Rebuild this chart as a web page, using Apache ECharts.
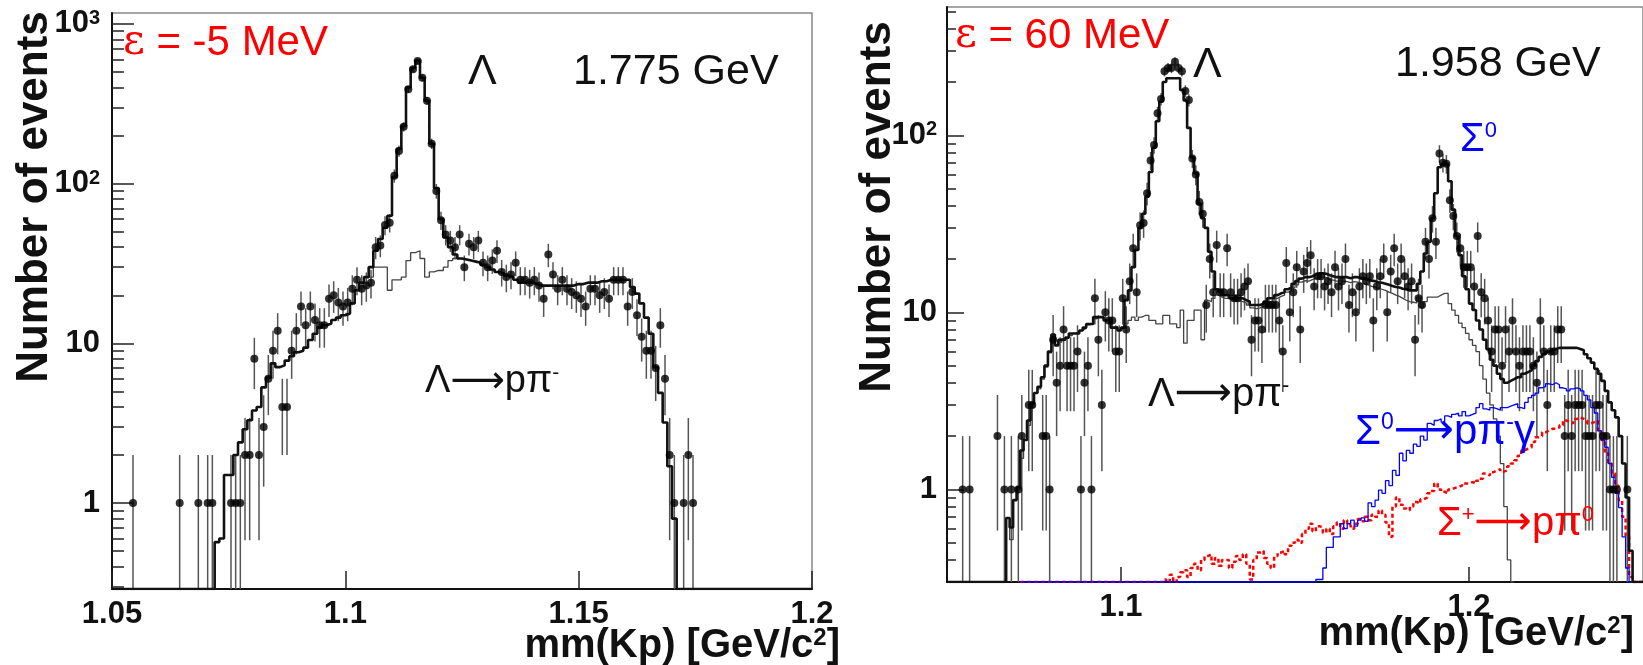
<!DOCTYPE html>
<html><head><meta charset="utf-8">
<script src="https://cdn.jsdelivr.net/npm/echarts@6/dist/echarts.min.js"></script>
<style>html,body{margin:0;padding:0;background:#fff}#c{width:1643px;height:665px}</style>
</head><body><div id="c"></div>
<script>
// ---------- DATA ----------
// Left panel: 1 MeV bins from 1.050 to 1.200 GeV (150 bins)
const L_X0 = 1.05, L_BIN = 0.001;
const L_DATA = [
 0,0,0,0,1,0,0,0,0,0,
 0,0,0,0,1,0,0,0,1,0,
 1,1,0,0,0,1,1,1,2,2,
 8,2,3,6,9,12,4,4,9,12,
 17,13,17,14,13,13,19,20,18,17,
 18,22,25,22,23,24,40,41,55,57,
 112,160,227,390,520,585,460,330,178,90,
 59,48,44,40,48,30,42,40,44,32,
 30,33,38,28,26,27,32,25,25,24,
 25,23,19,36,27,22,25,22,21,20,
 19,17,22,22,20,21,19,25,25,25,
 17,21,15,11,9,9,7,13,6,2,
 1,0,1,2,1,0,0,0,0,0,
 0,0,0,0,0,0,0,0,0,0,
 0,0,0,0,0,0,0,0,0,0];
const L_TOT = [
 0,0,0,0,0,0,0,0,0,0,
 0,0,0,0,0,0,0,0,0,0,
 0,0,0.57,0.6,1.5,1.5,2.0,2.4,2.9,3.3,
 3.8,4.0,5.3,6.1,7.5,7.1,7.3,7.8,8.3,8.8,
 9.0,9.4,10.5,11.5,12.6,13.0,13.3,14.0,14.5,15.0,
 15.4,17.8,21.5,24,26,30,38,45,53,63,
 110,165,230,400,530,590,460,330,178,94,
 60,46,40,36,34,33.5,33,32.5,32,31,
 30,29,28,27.5,26.5,26,25,24,24,24,
 23.5,23,23,23,23,23,23,23,23,23.5,
 23.5,24,24,24,24.5,24.5,25,25,25,25,
 25,22.5,20.5,17.8,14.5,11.5,7.1,4.9,3.2,1.7,
 0.8,0,0,0,0,0,0,0,0,0,
 0,0,0,0,0,0,0,0,0,0,
 0,0,0,0,0,0,0,0,0,0];
const L_BKG_START = 50;
const L_BKG = [
 15.4,17.8,21.5,24,26,26,30,30,30,21.5,
 25,25,26,33,37,38,34,26,28,28.6,
 28.6,30,33,34,34,33.5,33,32.5,32,31];

// Right panel: 1 MeV bins from 1.050 to 1.250 GeV (200 bins)
const R_X0 = 1.05, R_BIN = 0.001;
const R_DATA = [
 0,0,0,0,1,0,1,0,0,0,
 0,0,0,0,2,0,1,0,1,0,
 1,2,0,3,3,0,0,2,2,1,
 7,4,5,8,5,5,5,6,1,4,
 5,1,12,7,3,10,9,9,6,6,
 12,8,15,23,13,31,32,47,72,88,
 133,160,230,240,240,260,240,230,178,158,
 74,60,42,36,11,20,13,24,13,13,
 23,13,12,12,13,14,15,7,9,9,
 8,11,11,11,11,9,6,19,10,13,
 18,8,17,19,21,14,16,16,14,15,
 13,18,14,15,20,11,13,10,14,16,
 15,16,9,14,16,20,10,17,23,15,
 20,16,14,15,7,12,11,25,20,34,
 25,79,70,69,43,35,27,23,18,18,
 18,14,27,13,12,9,6,8,8,5,
 8,6,9,6,5,6,6,6,5,4,
 9,6,3,6,6,8,8,2,3,2,
 3,3,3,2,2,2,3,3,2,2,
 1,1,1,0,0,1,0,0,0,0];
const R_TOT = [
 0,0,0,0,0,0,0,0,0,0,
 0,0,0,0,0,0,0,0.69,0.61,0.87,
 1.03,1.66,1.9,2.45,3.05,3.5,3.8,4.3,5.0,6.0,
 7.5,6.5,7.0,7.0,7.2,7.6,7.6,7.6,7.9,8.2,
 8.6,8.6,9.4,9.4,9.4,9.0,9.0,8.2,8.2,7.9,
 8.2,11.7,13.3,18,22.5,30,36,45,62,85,
 120,155,200,210,210,210,210,180,157,110,
 75,61,41,34,30,22,17,13.5,13,12.5,
 12.5,12,12,12,12,11.7,11.5,11,11,11,
 11.2,11.5,12,12,12.5,12.8,13,13.5,13.8,14.5,
 15,15.5,15.8,15.8,16,16.3,16.6,16.6,16.5,16.2,
 16,15.8,15.8,15.8,15.8,15.6,15.8,15.8,15.6,15.5,
 15.3,15.1,15,14.8,14.7,14.5,14.3,14.1,13.9,13.8,
 13.6,13.5,13.3,13.3,13.3,14.5,17,21.5,25,34,
 47,66,69,69,55,38,27,21,16,13.5,
 11.2,10.3,9,8,7,6.2,5.4,5.0,4.5,4.2,
 4.0,4.1,4.2,4.3,4.3,4.5,4.6,4.7,5.0,5.3,
 5.6,5.8,6.0,6.1,6.2,6.3,6.3,6.3,6.3,6.3,
 6.3,6.2,6.1,5.8,5.5,5.2,4.8,4.5,4.1,3.6,
 3.1,2.8,2.55,2.0,1.4,0.9,0.45,0,0,0];
const R_BKG_START = 17;   // Lambda -> p pi- component
const R_BKG = [
 0.69,0.52,0.87,
 1.0,1.5,1.9,2.3,2.9,3.5,3.7,4.2,4.9,5.9,
 7.0,6.6,6.8,7.1,7.2,7.4,7.6,7.8,7.9,8.1,
 8.5,8.6,9.2,9.4,9.3,9.0,8.9,8.2,8.3,7.9,
 8.2,8.6,9.0,9.4,9.0,9.4,9.6,9.6,9.0,9.0,
 8.6,8.6,9.6,9.6,8.6,8.6,8.2,10.3,6.7,9.0,
 9.0,10.3,10.3,7.0,11.7,11.5,12,12.5,12.2,12,
 12,11.8,11.6,11.6,11.5,11.3,11,10.6,10.5,10.6,
 10.8,11,11.5,11.6,12,12.3,12.5,13,13.2,13.8,
 14.3,14.8,15.1,15,15.3,15.6,15.8,15.8,15.7,15.3,
 15.2,15,15,15,14.9,14.7,14.9,14.8,14.6,14.5,
 14.3,14,13.9,13.7,13.5,13.3,13,12.8,12.5,12.3,
 12,11.7,11.5,11.4,11.3,12.2,10.7,11.5,12.2,12.2,
 12.2,12.5,12.8,12.8,11.2,10.3,9.6,8.7,8.2,7.6,
 7.0,6.5,6.0,5.0,4.2,3.5,3.0,2.5,2.0,1.4,
 0.8,0.4,0];
const R_SIG0_START = 21;  // Sigma0 -> p pi- gamma component
const R_SIG0 = [
 0,0,0,0,0,0,0,0,0,0,
 0,0,0,0,0,0,0,0,0,0,
 0,0,0,0,0,0,0,0,0,0,
 0,0,0,0,0,0,0,0,0,0,
 0,0,0,0,0,0,0,0,0,0,
 0,0,0,0,0,0,0,0,0,0,
 0,0,0,0,0,0,0,0,0,0,
 0,0,0,0,0,0,0,0,0,0,
 0,0,0,0,0,
 0.31,0.31,0.36,0.47,
 0.47,0.54,0.54,0.64,0.6,0.64,0.67,0.62,0.67,0.69,
 0.66,0.84,0.8,0.87,0.99,0.95,1.12,1.05,1.28,1.2,
 1.6,1.45,1.66,1.6,1.8,1.75,2.0,1.9,2.36,2.3,
 2.45,2.5,2.4,2.6,2.55,2.65,2.7,2.6,2.75,2.6,
 2.65,2.7,2.9,3.05,2.85,2.8,2.9,2.86,2.8,2.9,
 2.9,2.95,3.0,3.05,2.9,2.86,3.1,3.3,3.4,3.5,
 3.75,3.8,3.95,3.9,4.0,3.9,3.75,3.7,3.6,3.7,
 3.75,3.7,3.6,3.4,3.2,2.9,2.7,2.15,1.9,1.73,
 1.4,1.17,0.95,0.79,0.54,0.36,0,0,0,0];
const R_SIGP_START = 21;  // Sigma+ -> p pi0 component
const R_SIGP = [
 0,0,0,0,0,0,0,0,0,0,
 0,0,0,0,0,0,0,0,0,0,
 0,0,0,0,0,0,0,0,0,0,
 0,0,0,0,0,0,0,0,0,0,
 0,
 0.31,0.3,0.33,0.3,0.32,0.34,0.35,0.32,
 0.36,0.38,0.35,0.4,0.42,0.43,0.38,0.41,0.37,0.4,
 0.4,0.36,0.39,0.42,0.4,0.43,0.38,0.31,0.4,0.44,
 0.45,0.41,0.38,0.36,0.42,0.44,0.45,0.43,0.48,0.5,
 0.52,0.5,0.56,0.6,0.64,0.58,0.62,0.61,0.57,0.6,
 0.56,0.62,0.65,0.6,0.67,0.63,0.6,0.64,0.68,0.66,
 0.7,0.67,0.72,0.7,0.76,0.72,0.65,0.54,0.8,0.9,
 0.82,0.78,0.76,0.8,0.85,0.83,0.88,0.9,0.95,0.98,
 1.08,1.0,0.97,0.95,1.0,1.02,1.03,1.05,1.08,1.08,
 1.1,1.08,1.12,1.15,1.23,1.2,1.25,1.28,1.3,1.26,
 1.28,1.35,1.4,1.46,1.55,1.66,1.7,1.73,1.85,1.97,
 2.0,2.1,2.15,2.2,2.2,2.24,2.3,2.45,2.4,2.36,
 2.5,2.55,2.5,2.45,2.36,2.4,2.45,2.15,1.9,1.6,
 1.4,1.23,1.05,0.87,0.7,0.54,0.32,0,0,0];

// axis ranges and tick labels
const L_XMIN = 1.05, L_XMAX = 1.2, L_YMIN = 0.29, L_YMAX = 1170;
const R_XMIN = 1.05, R_XMAX = 1.25, R_YMIN = 0.3, R_YMAX = 530;
const L_XTICKS = [1.05, 1.1, 1.15, 1.2];
const R_XTICKS = [1.1, 1.2];
const L_YTICKS = [1, 10, 100, 1000];
const R_YTICKS = [1, 10, 100];
const L_YMINOR = [0.3,0.4,0.5,0.6,0.7,0.8,0.9,2,3,4,5,6,7,8,9,20,30,40,50,60,70,80,90,200,300,400,500,600,700,800,900];
const R_YMINOR = [0.4,0.5,0.6,0.7,0.8,0.9,2,3,4,5,6,7,8,9,20,30,40,50,60,70,80,90,200,300,400,500];

// ---------- HELPERS ----------
const FONT = "'Liberation Sans', Arial, Helvetica, sans-serif";
function steps(x0, w, start, vals, yMin) {
  const out = [];
  for (let k = 0; k < vals.length; k++) {
    const v = vals[k];
    out.push([x0 + (start + k) * w, v > 0 ? v : yMin]);
  }
  const last = vals[vals.length - 1];
  out.push([x0 + (start + vals.length) * w, last > 0 ? last : yMin]);
  return out;
}
function points(x0, w, vals) {
  const out = [];
  vals.forEach((v, i) => { if (v > 0) out.push([x0 + (i + 0.5) * w, v]); });
  return out;
}
function yLab(v) {
  const p = Math.round(Math.log10(v));
  if (p === 0) return '1';
  if (p === 1) return '10';
  return '10{s|' + p + '}';
}
function errSeries(xi, yi, data, yMin) {
  return {
    type: 'custom', xAxisIndex: xi, yAxisIndex: yi, data: data, z: 2, clip: true,
    encode: {x: 0, y: 1},
    renderItem: function (params, api) {
      const x = api.value(0), v = api.value(1), e = Math.sqrt(v);
      const lo = Math.max(v - e, yMin);
      const p1 = api.coord([x, lo]), p2 = api.coord([x, v + e]);
      return {type: 'line', shape: {x1: p1[0], y1: p1[1], x2: p2[0], y2: p2[1]},
        style: {stroke: '#555', lineWidth: 1.5}};
    }
  };
}
function lineSeries(xi, yi, data, color, width, z, dashed) {
  return {type: 'line', xAxisIndex: xi, yAxisIndex: yi, data: data, step: 'end',
    symbol: 'none', showSymbol: false, z: z, clip: true, silent: true,
    lineStyle: {color: color, width: width, type: dashed ? [4, 3] : 'solid'}};
}
function dotSeries(xi, yi, data) {
  return {type: 'scatter', xAxisIndex: xi, yAxisIndex: yi, data: data, symbol: 'circle',
    symbolSize: 8, z: 10, itemStyle: {color: '#000'}};
}
function mkX(g, min, max, ticks, len) {
  return {type: 'value', gridIndex: g, min: min, max: max,
    axisLine: {show: true, onZero: false, lineStyle: {color: '#111', width: 2}},
    axisTick: {show: true, inside: true, length: len, customValues: ticks, lineStyle: {color: '#222', width: 1.5}},
    axisLabel: {show: true, customValues: ticks, margin: 10, color: '#111', fontSize: 31, fontWeight: 'bold',
      fontFamily: FONT, hideOverlap: false, formatter: v => String(+(+v).toFixed(3))},
    splitLine: {show: false}};
}
function mkY(g, min, max, ticks, len, margin) {
  return {type: 'log', logBase: 10, gridIndex: g, min: min, max: max, position: 'left',
    axisLine: {show: true, onZero: false, lineStyle: {color: '#111', width: 2}},
    axisTick: {show: true, inside: true, length: len, customValues: ticks, lineStyle: {color: '#222', width: 1.5}},
    axisLabel: {show: true, customValues: ticks, margin: margin, color: '#111', fontSize: 31, fontWeight: 'bold',
      fontFamily: FONT, formatter: yLab,
      rich: {s: {fontSize: 20, fontWeight: 'bold', fontFamily: FONT, color: '#111', verticalAlign: 'top'}}},
    splitLine: {show: false}};
}
function mkYMinor(g, min, max, ticks, len) {
  return {type: 'log', logBase: 10, gridIndex: g, min: min, max: max, position: 'left',
    axisLine: {show: false},
    axisTick: {show: true, inside: true, length: len, customValues: ticks, lineStyle: {color: '#222', width: 1.5}},
    axisLabel: {show: false}, splitLine: {show: false}};
}
function txt(x, y, text, size, color) {
  return {type: 'text', x: x, y: y, z: 100, silent: true,
    style: {text: text, fontSize: size, fontFamily: FONT, fill: color, align: 'left', verticalAlign: 'middle',
      rich: {
        s: {fontSize: Math.round(size * 0.55), fontFamily: FONT, fill: color, verticalAlign: 'top'},
        a: {fontSize: size, fontFamily: "'DejaVu Sans', sans-serif", fill: color},
        e: {fontSize: size, fontFamily: "'DejaVu Serif', 'Liberation Serif', serif", fill: color}
      }}};
}

// ---------- CHART ----------
const chart = echarts.init(document.getElementById('c'), null, {renderer: 'canvas'});
const option = {
  animation: false,
  backgroundColor: '#fff',
  grid: [
    {left: 112, top: 13, width: 700, height: 576, show: true, borderColor: '#888', borderWidth: 1.5, backgroundColor: 'transparent'},
    {left: 947, top: 7, width: 698, height: 575, show: true, borderColor: '#888', borderWidth: 1.5, backgroundColor: 'transparent'}
  ],
  xAxis: [mkX(0, L_XMIN, L_XMAX, L_XTICKS, 18), mkX(1, R_XMIN, R_XMAX, R_XTICKS, 15)],
  yAxis: [
    mkY(0, L_YMIN, L_YMAX, L_YTICKS, 22, 12),
    mkYMinor(0, L_YMIN, L_YMAX, L_YMINOR, 12),
    mkY(1, R_YMIN, R_YMAX, R_YTICKS, 17, 10),
    mkYMinor(1, R_YMIN, R_YMAX, R_YMINOR, 9)
  ],
  series: [
    errSeries(0, 0, points(L_X0, L_BIN, L_DATA), L_YMIN),
    lineSeries(0, 0, steps(L_X0, L_BIN, L_BKG_START, L_BKG, L_YMIN), '#444', 1.3, 3),
    lineSeries(0, 0, steps(L_X0, L_BIN, 0, L_TOT, L_YMIN), '#111', 2.6, 5),
    dotSeries(0, 0, points(L_X0, L_BIN, L_DATA)),

    errSeries(1, 2, points(R_X0, R_BIN, R_DATA), R_YMIN),
    lineSeries(1, 2, steps(R_X0, R_BIN, R_SIGP_START, R_SIGP, R_YMIN), '#ff0000', 2.5, 4, true),
    lineSeries(1, 2, steps(R_X0, R_BIN, R_SIG0_START, R_SIG0, R_YMIN), '#0000ff', 1.3, 4),
    lineSeries(1, 2, steps(R_X0, R_BIN, R_BKG_START, R_BKG, R_YMIN), '#444', 1.3, 3),
    lineSeries(1, 2, steps(R_X0, R_BIN, 0, R_TOT, R_YMIN), '#111', 2.6, 5),
    dotSeries(1, 2, points(R_X0, R_BIN, R_DATA))
  ],
  graphic: [
    // axis titles
    {type: 'text', x: 35, y: 197, rotation: Math.PI / 2, z: 100, silent: true,
      style: {text: 'Number of events', fontSize: 44, fontWeight: 'bold', fontFamily: FONT, fill: '#111', align: 'center', verticalAlign: 'middle'}},
    {type: 'text', x: 878, y: 207, rotation: Math.PI / 2, z: 100, silent: true,
      style: {text: 'Number of events', fontSize: 44, fontWeight: 'bold', fontFamily: FONT, fill: '#111', align: 'center', verticalAlign: 'middle'}},
    {type: 'text', x: 840, y: 646, z: 100, silent: true,
      style: {text: 'mm(Kp) [GeV/c{s|2}]', fontSize: 40, fontWeight: 'bold', fontFamily: FONT, fill: '#111', align: 'right', verticalAlign: 'middle',
        rich: {s: {fontSize: 24, fontWeight: 'bold', fontFamily: FONT, fill: '#111', verticalAlign: 'top'}}}},
    {type: 'text', x: 1634, y: 634, z: 100, silent: true,
      style: {text: 'mm(Kp) [GeV/c{s|2}]', fontSize: 40, fontWeight: 'bold', fontFamily: FONT, fill: '#111', align: 'right', verticalAlign: 'middle',
        rich: {s: {fontSize: 24, fontWeight: 'bold', fontFamily: FONT, fill: '#111', verticalAlign: 'top'}}}},
    // left panel annotations
    txt(123, 43, '{e|ε} = -5 MeV', 42, '#ff0000'),
    txt(468, 72, 'Λ', 43, '#111'),
    txt(573, 72, '1.775 GeV', 43, '#111'),
    txt(425, 382, 'Λ{a|⟶}pπ{s|-}', 38, '#111'),
    // right panel annotations
    txt(955, 36, '{e|ε} = 60 MeV', 42, '#ff0000'),
    txt(1193, 65, 'Λ', 43, '#111'),
    txt(1395, 64, '1.958 GeV', 43, '#111'),
    txt(1460, 140, 'Σ{s|0}', 40, '#0000ff'),
    txt(1148, 395, 'Λ{a|⟶}pπ{s|-}', 40, '#111'),
    txt(1355, 432, 'Σ{s|0}{a|⟶}pπ{s|-}γ', 42, '#0000ff'),
    txt(1437, 524, 'Σ{s|+}{a|⟶}pπ{s|0}', 40, '#ff0000')
  ]
};
chart.setOption(option);
</script></body></html>
